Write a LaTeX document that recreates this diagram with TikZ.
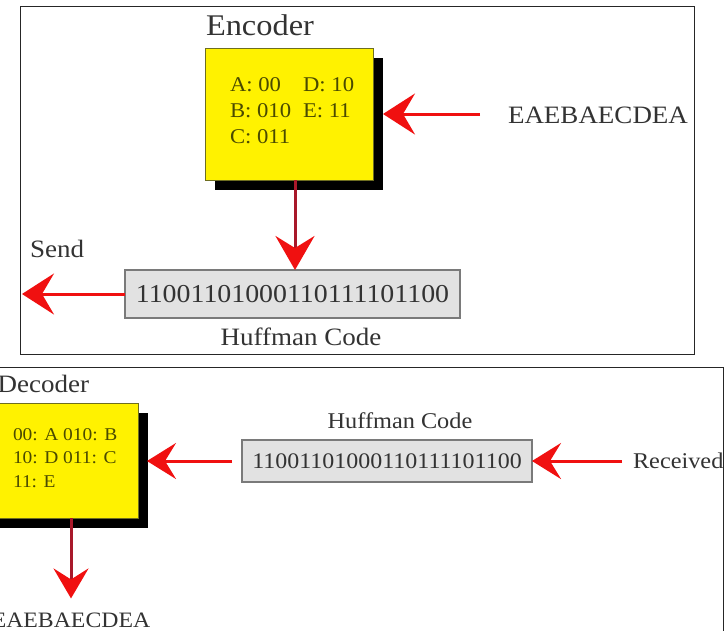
\documentclass[tikz,border=0pt]{standalone}
\usepackage{fontspec}
\setmainfont{Liberation Serif}[FakeStretch=1.08]
\usetikzlibrary{arrows.meta,shadows}
\definecolor{ink}{HTML}{333333}
\definecolor{boxink}{HTML}{4A4A00}
\definecolor{boxedge}{HTML}{6E6E20}
\definecolor{codefill}{HTML}{E2E2E2}
\definecolor{codeedge}{HTML}{7A7A7A}
\definecolor{arrowred}{HTML}{F01010}
\definecolor{stemred}{HTML}{A8182A}
\begin{document}
\begin{tikzpicture}[x=1pt,y=-1pt,
  frame/.style={draw=black!85, line width=1pt},
  table/.style={fill=yellow, draw=boxedge, line width=0.8pt, inner sep=0pt, outer sep=0pt,
    drop shadow={shadow xshift=10pt, shadow yshift=-10pt, fill=black, opacity=1}},
  codebox/.style={fill=codefill, draw=codeedge, line width=1.2pt, inner sep=0pt, outer sep=0pt, text=ink},
  label/.style={text=ink, inner sep=0pt, outer sep=0pt},
  keytext/.style={text=boxink, inner sep=0pt, outer sep=0pt},
  flow/.style={draw=arrowred, line width=3pt, -{Stealth[length=32pt,width=41pt,inset=12pt]}},
  flowsmall/.style={draw=arrowred, line width=3pt, -{Stealth[length=29pt,width=36pt,inset=11pt]}},
  stem/.style={draw=stemred, line width=3pt, -{Stealth[length=34pt,width=39pt,inset=12pt,color=arrowred]}},
  stemsmall/.style={draw=stemred, line width=3pt, -{Stealth[length=30pt,width=35pt,inset=11pt,color=arrowred]}}]
\useasboundingbox (0,0) rectangle (725,630);
\clip (0,0) rectangle (725,630);
\fill[white] (0,0) rectangle (725,630);

% ---------------- encoder side ----------------
\draw[frame] (20,6) rectangle (694,354);

\node[label, anchor=base west, font=\fontsize{30}{36}\selectfont] (enctitle) at (206,35) {Encoder};
\node[table, minimum width=168pt, minimum height=132pt] (enc) at (289,114) {};
\node[keytext, anchor=base west, font=\fontsize{21}{26}\selectfont] (enckey) at (230,91)
  {\begin{tabular}[t]{@{}l@{\hspace{12pt}}l@{}}A: 00 & D: 10\\ B: 010 & E: 11\\ C: 011 &\end{tabular}};

\node[label, anchor=base west, font=\fontsize{25}{30}\selectfont] (msg) at (508,123) {EAEBAECDEA};
\draw[flow] ([xshift=-28pt]msg.west |- enc.east) -- ([xshift=10pt]enc.east);

\node[codebox, minimum width=335pt, minimum height=48pt, font=\fontsize{25.8}{30}\selectfont] (code1) at (292.5,294) {11001101000110111101100};
\node[label, anchor=base, font=\fontsize{25}{30}\selectfont] (code1lab) at (301,345) {Huffman Code};
\draw[stem] ([xshift=6pt]enc.south) -- ([xshift=6pt]enc.south |- code1.north);

\node[label, anchor=base west, font=\fontsize{25}{30}\selectfont] (send) at (30,257) {Send};
\coordinate (sendend) at (22,294);
\draw[flow] (code1.west) -- (sendend);

% ---------------- decoder side ----------------
\draw[frame] (-5,367) rectangle (723,640);

\node[label, anchor=base east, font=\fontsize{25}{30}\selectfont] (dectitle) at (89,392) {Decoder};
\node[table, minimum width=168pt, minimum height=115pt] (dec) at (54,460.5) {};
\node[keytext, anchor=base west, font=\fontsize{18}{23.5}\selectfont] (deckey) at (13,440)
  {\begin{tabular}[t]{@{}l@{}}00: A 010: B\\ 10: D 011: C\\ 11: E\end{tabular}};

\node[codebox, minimum width=290pt, minimum height=42pt, font=\fontsize{22.2}{26}\selectfont] (code2) at (387,461) {11001101000110111101100};
\node[label, anchor=base, font=\fontsize{22.5}{27}\selectfont] (code2lab) at (400,428) {Huffman Code};

\node[label, anchor=base west, font=\fontsize{22.5}{27}\selectfont] (recv) at (633,468) {Received};
\draw[flowsmall] ([xshift=-11pt]recv.west |- code2.east) -- (code2.east);
\draw[flowsmall] ([xshift=-10pt]code2.west) -- ([xshift=9pt]dec.east |- code2.west);

\node[label, anchor=base, font=\fontsize{22}{26}\selectfont] (out) at (71,627) {EAEBAECDEA};
\coordinate (decout) at (71,518);
\draw[stemsmall] (decout) -- ([yshift=14pt]out.north);
\end{tikzpicture}
\end{document}
